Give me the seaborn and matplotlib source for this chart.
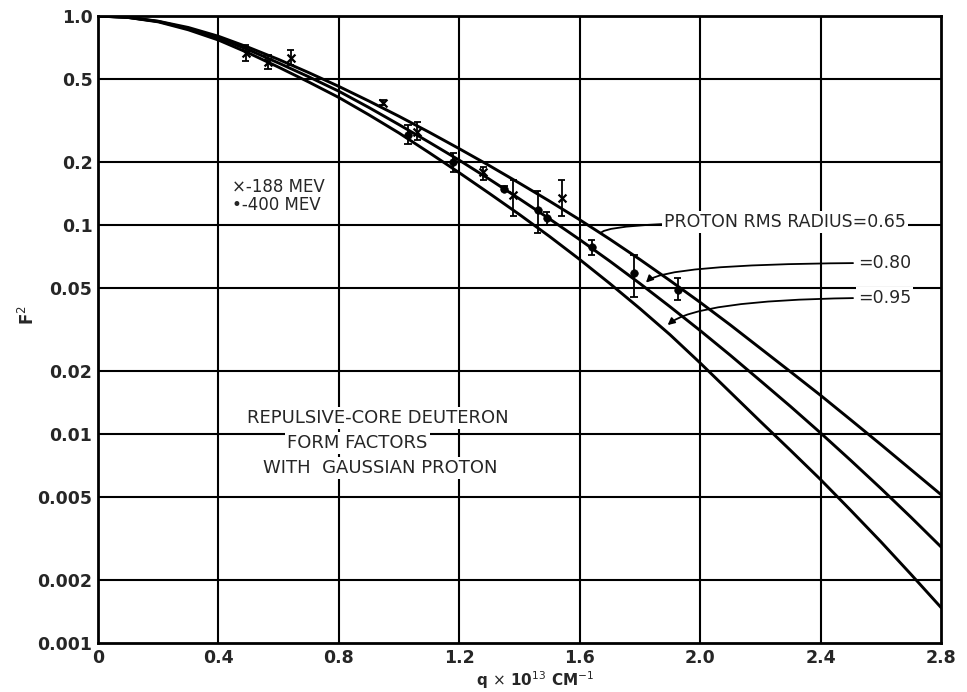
import numpy as np
import pandas as pd
import seaborn as sns
import matplotlib
matplotlib.use("Agg")
import matplotlib.pyplot as plt
from matplotlib.ticker import FixedLocator, FixedFormatter, NullLocator

# ---- data (curves read as log10 F^2 at q steps of 0.1) ----
q_grid = [0.0, 0.1, 0.2, 0.3, 0.4, 0.5, 0.6, 0.7, 0.8, 0.9, 1.0, 1.1, 1.2, 1.3, 1.4,
          1.5, 1.6, 1.7, 1.8, 1.9, 2.0, 2.1, 2.2, 2.3, 2.4, 2.5, 2.6, 2.7, 2.8]
log10_f2_r065 = [0.0, -0.006, -0.025, -0.055, -0.097, -0.150, -0.208, -0.271, -0.337, -0.407,
                 -0.480, -0.556, -0.635, -0.716, -0.800, -0.886, -0.975, -1.068, -1.165, -1.266,
                 -1.370, -1.478, -1.590, -1.702, -1.815, -1.932, -2.050, -2.170, -2.290]
log10_f2_r080 = [0.0, -0.007, -0.026, -0.060, -0.105, -0.162, -0.225, -0.291, -0.360, -0.438,
                 -0.520, -0.604, -0.690, -0.781, -0.875, -0.971, -1.070, -1.173, -1.280, -1.391,
                 -1.505, -1.623, -1.745, -1.868, -1.995, -2.126, -2.260, -2.398, -2.540]
log10_f2_r095 = [0.0, -0.007, -0.028, -0.066, -0.115, -0.177, -0.245, -0.316, -0.390, -0.473,
                 -0.560, -0.654, -0.750, -0.849, -0.950, -1.055, -1.165, -1.280, -1.400, -1.525,
                 -1.660, -1.800, -1.940, -2.078, -2.218, -2.365, -2.515, -2.671, -2.830]
radii_labels = ["0.65", "0.80", "0.95"]

q_188 = [0.49, 0.565, 0.64, 0.945, 1.06, 1.28, 1.38, 1.54]
f2_188 = [0.665, 0.60, 0.63, 0.384, 0.28, 0.179, 0.139, 0.135]
lo_188 = [0.61, 0.56, 0.58, 0.375, 0.255, 0.165, 0.11, 0.11]
hi_188 = [0.73, 0.65, 0.69, 0.395, 0.31, 0.19, 0.165, 0.165]

q_400 = [1.03, 1.18, 1.35, 1.46, 1.49, 1.64, 1.78, 1.925]
f2_400 = [0.27, 0.20, 0.149, 0.118, 0.108, 0.0785, 0.059, 0.049]
lo_400 = [0.245, 0.18, 0.145, 0.092, 0.10, 0.072, 0.045, 0.044]
hi_400 = [0.30, 0.22, 0.153, 0.145, 0.116, 0.085, 0.072, 0.056]

x_ticks = [0, 0.4, 0.8, 1.2, 1.6, 2.0, 2.4, 2.8]
x_ticklabels = ["0", "0.4", "0.8", "1.2", "1.6", "2.0", "2.4", "2.8"]
y_ticks = [1.0, 0.5, 0.2, 0.1, 0.05, 0.02, 0.01, 0.005, 0.002, 0.001]
y_ticklabels = ["1.0", "0.5", "0.2", "0.1", "0.05", "0.02", "0.01", "0.005", "0.002", "0.001"]

# ---- build tables ----
n = len(q_grid)
curves = pd.DataFrame({
    "q": q_grid * 3,
    "F2": np.power(10.0, np.array(log10_f2_r065 + log10_f2_r080 + log10_f2_r095)),
    "radius": [radii_labels[0]] * n + [radii_labels[1]] * n + [radii_labels[2]] * n,
})
pts188 = pd.DataFrame({"q": q_188, "F2": f2_188, "lo": lo_188, "hi": hi_188})
pts400 = pd.DataFrame({"q": q_400, "F2": f2_400, "lo": lo_400, "hi": hi_400})

sns.set_style("white")
plt.rcParams["font.family"] = ["DejaVu Sans"]

fig = plt.figure(figsize=(9.67, 6.92), dpi=100)
ax = fig.add_axes([98 / 967, 1 - 643 / 692, (941 - 98) / 967, (643 - 16) / 692])

ax.set_yscale("log")
ax.set_xlim(0, 2.8)
ax.set_ylim(0.001, 1.0)

# grid
for xv in x_ticks[1:-1]:
    ax.axvline(xv, color="black", lw=1.5, zorder=1)
for yv in y_ticks[1:-1]:
    ax.axhline(yv, color="black", lw=1.5, zorder=1)

sns.lineplot(data=curves, x="q", y="F2", units="radius", estimator=None,
             color="black", lw=2.1, ax=ax, legend=False, zorder=3)

# error bars
for df in (pts188, pts400):
    ax.vlines(df["q"], df["lo"], df["hi"], color="black", lw=1.3, zorder=4)
    ax.hlines(df["lo"], df["q"] - 0.012, df["q"] + 0.012, color="black", lw=1.3, zorder=4)
    ax.hlines(df["hi"], df["q"] - 0.012, df["q"] + 0.012, color="black", lw=1.3, zorder=4)

sns.scatterplot(data=pts188, x="q", y="F2", marker="x", s=32, color="black",
                linewidth=1.6, ax=ax, zorder=5, legend=False)
sns.scatterplot(data=pts400, x="q", y="F2", marker="o", s=30, color="black",
                edgecolor="black", ax=ax, zorder=5, legend=False)

# ticks
ax.xaxis.set_major_locator(FixedLocator(x_ticks))
ax.xaxis.set_major_formatter(FixedFormatter(x_ticklabels))
ax.yaxis.set_major_locator(FixedLocator(y_ticks))
ax.yaxis.set_major_formatter(FixedFormatter(y_ticklabels))
ax.yaxis.set_minor_locator(NullLocator())
ax.tick_params(axis="both", which="major", length=0, labelsize=12.5)
ax.tick_params(axis="x", pad=4)
ax.tick_params(axis="y", pad=4)
for lab in ax.get_xticklabels() + ax.get_yticklabels():
    lab.set_fontweight("bold")
ax.set_xlabel("")
ax.set_ylabel("")
for s in ax.spines.values():
    s.set_color("black")
    s.set_linewidth(2.0)

fig.text(535 / 967, 1 - 680 / 692, r"q $\times$ 10$^{13}$ CM$^{-1}$", ha="center", va="center",
         fontsize=11, fontweight="bold")
fig.text(28 / 967, 1 - 315 / 692, r"F$^2$", ha="center", va="center", rotation=90,
         fontsize=12, fontweight="bold")

box = dict(facecolor="white", edgecolor="none", pad=1.5)
ax.text(0.446, 0.152, "×-188 MEV", fontsize=12, ha="left", va="center", bbox=box, zorder=6)
ax.text(0.446, 0.1245, "•-400 MEV", fontsize=12, ha="left", va="center", bbox=box, zorder=6)

ax.text(0.931, 0.01193, "REPULSIVE-CORE DEUTERON", fontsize=13, ha="center", va="center", bbox=box, zorder=6)
ax.text(0.861, 0.00906, "FORM FACTORS", fontsize=13, ha="center", va="center", bbox=box, zorder=6)
ax.text(0.938, 0.00688, "WITH  GAUSSIAN PROTON", fontsize=13, ha="center", va="center", bbox=box, zorder=6)

ax.annotate("PROTON RMS RADIUS=0.65", xy=(1.67, 0.0915), xytext=(1.879, 0.1034),
            fontsize=12.5, ha="left", va="center", bbox=box, zorder=6,
            arrowprops=dict(arrowstyle="-", color="black", lw=1.3,
                            connectionstyle="angle3,angleA=0,angleB=60", shrinkA=0, shrinkB=0))
ax.annotate("=0.80", xy=(1.82, 0.053), xytext=(2.524, 0.0658),
            fontsize=12.5, ha="left", va="center", bbox=box, zorder=6,
            arrowprops=dict(arrowstyle="-|>", color="black", lw=1.3, mutation_scale=10,
                            connectionstyle="angle3,angleA=0,angleB=45", shrinkA=2, shrinkB=0))
ax.annotate("=0.95", xy=(1.892, 0.0332), xytext=(2.524, 0.0448),
            fontsize=12.5, ha="left", va="center", bbox=box, zorder=6,
            arrowprops=dict(arrowstyle="-|>", color="black", lw=1.3, mutation_scale=10,
                            connectionstyle="angle3,angleA=0,angleB=40", shrinkA=2, shrinkB=0))

fig.savefig("out.png", dpi=100)
